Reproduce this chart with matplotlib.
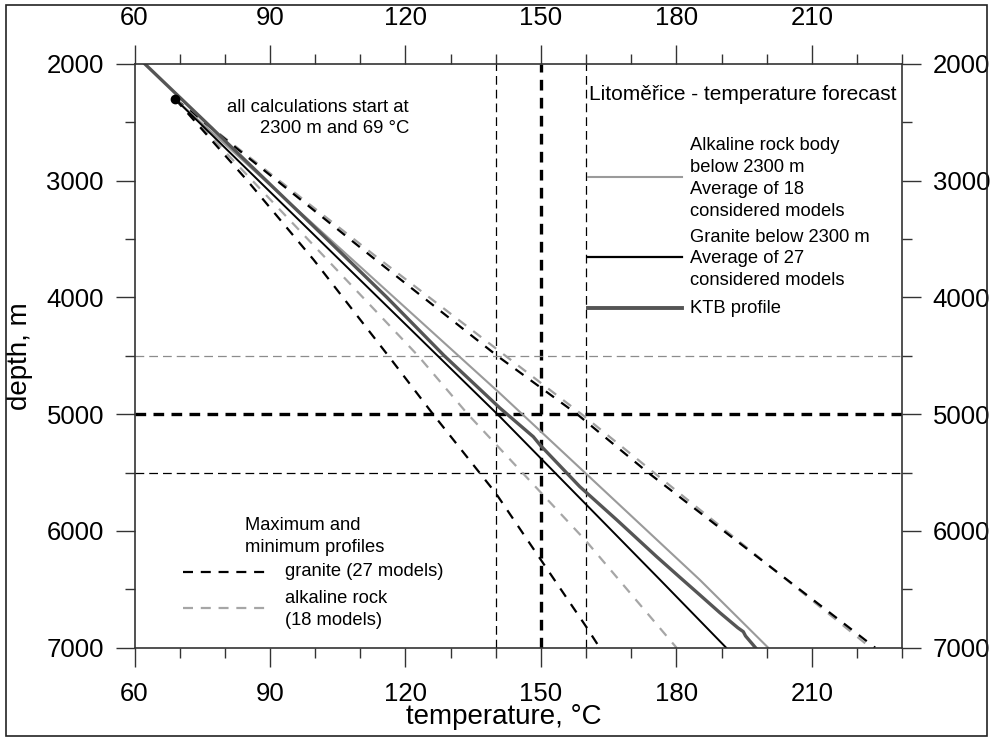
import matplotlib
matplotlib.use('Agg')
import matplotlib.pyplot as plt
from matplotlib.patches import Rectangle
from matplotlib.ticker import MultipleLocator

plt.rcParams['font.family'] = ['Liberation Sans', 'DejaVu Sans']

# temperature (degC) vs depth (m)
gran_avg_d = [2300, 5021, 6420, 7000]
gran_avg_t = [69, 140.9, 176.4, 191]

alk_avg_d = [2300, 4821, 6420, 7000]
alk_avg_t = [69, 140.9, 185.2, 200.3]

ktb_d = [2000, 2500, 3000, 3500, 4000, 4500, 4947, 5193, 5264, 5621,
         5906, 6220, 6392, 6549, 6700, 6830, 6863, 6900, 7000]
ktb_t = [62.3, 75.8, 89.2, 102.6, 115.9, 128.6, 140.9, 148.3, 149.8, 158.6,
         166.8, 175.6, 180.6, 185.2, 189.6, 193.6, 194.8, 195.3, 197.5]

gran_max_d = [2300, 3650, 4500, 5000, 5500, 7000]
gran_max_t = [69, 112.5, 140.3, 158, 173.7, 224]

alk_max_d = [2300, 3650, 5000, 7000]
alk_max_t = [69, 113.5, 159, 223]

alk_min_d = [2300, 4500, 5000, 6087, 7000]
alk_min_t = [69, 122.8, 133.8, 160, 180]

gran_min_d = [2300, 3000, 3679, 4500, 5000, 5677, 6249, 6820, 7000]
gran_min_t = [69, 85, 99.7, 116.2, 126.1, 140, 150, 160, 163]

start_t, start_d = 69, 2300

fig = plt.figure(figsize=(9.95, 7.38), dpi=100)
ax = fig.add_axes([0.1352, 0.1224, 0.7716, 0.7909])

# reference lines
ax.axvline(140, color='black', lw=0.9, dashes=(7, 4))
ax.axvline(160, color='black', lw=0.9, dashes=(7, 4))
ax.axvline(150, color='black', lw=2.4, dashes=(3.2, 2.2))
ax.axhline(4500, color='#8c8c8c', lw=0.9, dashes=(7, 4))
ax.axhline(5500, color='black', lw=0.9, dashes=(7, 4))
ax.axhline(5000, color='black', lw=2.4, dashes=(3.2, 2.2))

# max / min profiles
ax.plot(alk_max_t, alk_max_d, color='#a0a0a0', lw=1.6, dashes=(4.5, 4))
ax.plot(gran_max_t, gran_max_d, color='black', lw=1.6, dashes=(4.5, 4))
ax.plot(alk_min_t, alk_min_d, color='#a6a6a6', lw=1.6, dashes=(4.5, 4))
ax.plot(gran_min_t, gran_min_d, color='black', lw=1.6, dashes=(4.5, 4))

# averages and KTB
ax.plot(alk_avg_t, alk_avg_d, color='#9a9a9a', lw=1.5)
ax.plot(gran_avg_t, gran_avg_d, color='black', lw=1.4)
ax.plot(ktb_t, ktb_d, color='#555555', lw=2.4)
ax.plot([start_t], [start_d], 'o', color='black', ms=6)

ax.set_xlim(60, 230)
ax.set_ylim(7000, 2000)
ax.xaxis.set_major_locator(MultipleLocator(30))
ax.xaxis.set_minor_locator(MultipleLocator(10))
ax.yaxis.set_major_locator(MultipleLocator(1000))
ax.yaxis.set_minor_locator(MultipleLocator(500))
ax.tick_params(which='both', direction='out', top=True, right=True,
               labeltop=True, labelright=True, color='#333333', width=1.0,
               labelsize=18.5)
ax.tick_params(which='major', length=14)
ax.tick_params(which='minor', length=7.2)
ax.tick_params(axis='x', pad=10.5)
ax.tick_params(axis='y', pad=8.0)
for sp in ax.spines.values():
    sp.set_color('#333333')
    sp.set_linewidth(1.2)

ax.set_xlabel('temperature, °C', fontsize=20)
ax.set_ylabel('depth, m', fontsize=20)
ax.xaxis.set_label_coords(0.481, -0.097)
ax.yaxis.set_label_coords(-0.132, 0.5)

# annotations
ax.text(0.3575, 0.9074, 'all calculations start at\n2300 m and 69 °C',
        transform=ax.transAxes, ha='right', va='center', fontsize=13.3,
        linespacing=1.28)
ax.text(0.592, 0.9469, 'Litoměřice - temperature forecast',
        transform=ax.transAxes, ha='left', va='center', fontsize=15)

# upper legend
tr = ax.transAxes
ax.plot([0.5906, 0.7132], [0.8069, 0.8069], color='#9a9a9a', lw=1.5, transform=tr)
ax.plot([0.5906, 0.7132], [0.6693, 0.6693], color='black', lw=1.6, transform=tr)
ax.plot([0.5906, 0.7132], [0.5819, 0.5819], color='#555555', lw=2.8, transform=tr)
leg_kw = dict(transform=tr, ha='left', va='center', fontsize=13.2, linespacing=1.37)
ax.text(0.7235, 0.8038, 'Alkaline rock body\nbelow 2300 m\nAverage of 18\nconsidered models', **leg_kw)
ax.text(0.7235, 0.6659, 'Granite below 2300 m\nAverage of 27\nconsidered models', **leg_kw)
ax.text(0.7235, 0.5819, 'KTB profile', **leg_kw)

# lower legend
ax.text(0.1439, 0.1909, 'Maximum and\nminimum profiles', **leg_kw)
ax.plot([0.0632, 0.1739], [0.1302, 0.1302], color='black', lw=1.6,
        dashes=(4.5, 3.5), transform=tr)
ax.plot([0.0632, 0.1739], [0.0675, 0.0675], color='#a6a6a6', lw=1.6,
        dashes=(4.5, 3.5), transform=tr)
ax.text(0.196, 0.1302, 'granite (27 models)', **leg_kw)
ax.text(0.196, 0.0654, 'alkaline rock\n(18 models)', **leg_kw)

# frame round the figure
fig.patches.append(Rectangle((0.006, 0.0027), 0.986, 0.9905, transform=fig.transFigure,
                             fill=False, edgecolor='#222222', lw=1.2))

fig.savefig('out.png', dpi=100)
